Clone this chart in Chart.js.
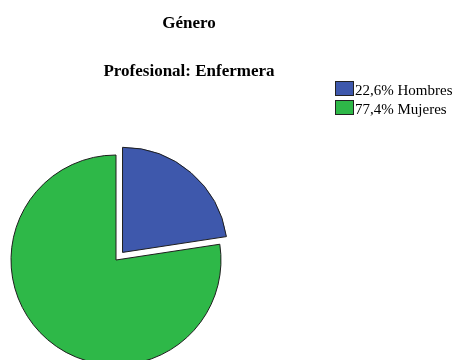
<!DOCTYPE html>
<html>
<head>
<meta charset="utf-8">
<script src="https://cdn.jsdelivr.net/npm/chart.js@4"></script>
<style>
  html, body { margin: 0; padding: 0; background: #fff; }
  #wrap { position: relative; width: 470px; height: 360px; overflow: hidden; font-family: "Liberation Serif", "Times New Roman", serif; color: #000; }
  #chart { position: absolute; left: 0; top: 0; }
  .title { position: absolute; left: 0; width: 378px; text-align: center; font-weight: bold; font-size: 17px; line-height: 17px; white-space: nowrap; }
  #legend { position: absolute; left: 335px; top: 81px; }
  .item { position: relative; height: 19px; }
  .swatch { position: absolute; left: 0; top: 0; width: 17px; height: 13px; border: 1px solid #222; }
  .label { position: absolute; left: 20px; top: 1.5px; font-size: 15px; line-height: 15px; white-space: nowrap; }
</style>
</head>
<body>
<div id="wrap">
  <canvas id="chart" width="470" height="360"></canvas>
  <div class="title" id="t1" style="top:14px"></div>
  <div class="title" id="t2" style="top:62px"></div>
  <div id="legend"></div>
</div>
<script>
// datos del gráfico
const titulo = 'Género';
const subtitulo = 'Profesional: Enfermera';
const categorias = ['Hombres', 'Mujeres'];
const porcentajes = [22.6, 77.4];
const colores = ['#3e58ac', '#2eb848'];
const separacion = [40, 0]; // sector destacado (Chart.js v4 desplaza offset/4)

document.getElementById('t1').textContent = titulo;
document.getElementById('t2').textContent = subtitulo;

// leyenda a la derecha
const legend = document.getElementById('legend');
categorias.forEach((cat, i) => {
  const item = document.createElement('div');
  item.className = 'item';
  const sw = document.createElement('div');
  sw.className = 'swatch';
  sw.style.background = colores[i];
  const lab = document.createElement('div');
  lab.className = 'label';
  lab.textContent = porcentajes[i].toFixed(1).replace('.', ',') + '% ' + cat;
  item.appendChild(sw);
  item.appendChild(lab);
  legend.appendChild(item);
});

new Chart(document.getElementById('chart'), {
  type: 'pie',
  data: {
    labels: categorias,
    datasets: [{
      data: porcentajes,
      backgroundColor: colores,
      borderColor: '#1e1e1e',
      borderWidth: 1,
      offset: separacion,
      radius: 105
    }]
  },
  options: {
    responsive: false,
    animation: false,
    layout: {
      padding: { left: 0, right: 238, top: 160, bottom: 0 }
    },
    plugins: {
      legend: { display: false },
      title: { display: false },
      tooltip: { enabled: false }
    }
  }
});
</script>
</body>
</html>
